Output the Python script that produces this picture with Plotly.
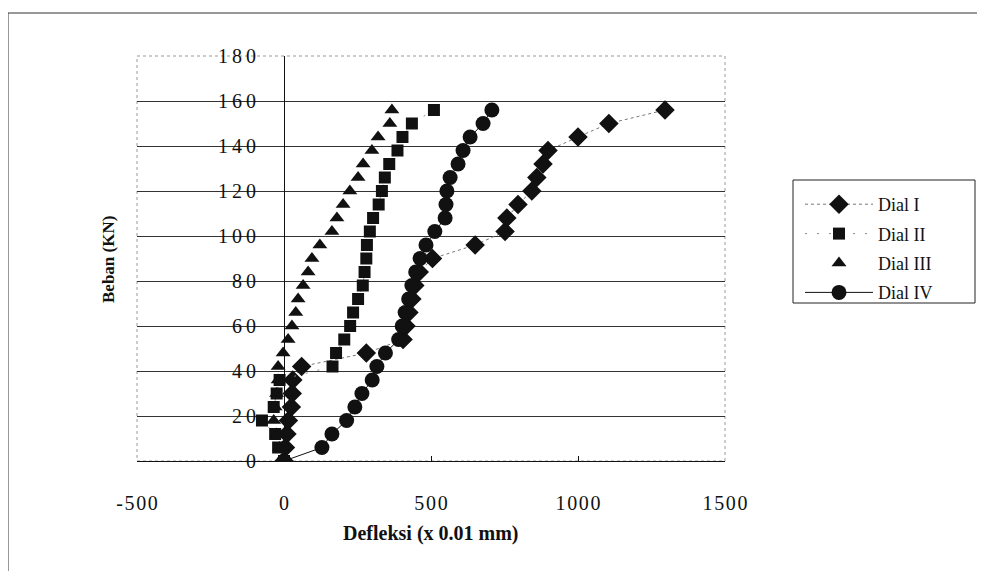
import plotly.graph_objects as go

# Load steps (kN)
beban = [0, 6, 12, 18, 24, 30, 36, 42, 48, 54, 60, 66, 72, 78, 84, 90,
         96, 102, 108, 114, 120, 126, 132, 138, 144, 150, 156]

# Deflection readings (x 0.01 mm)
dial_1 = [0, 5, 10, 15, 25, 28, 30, 60, 280, 405, 415, 425, 435, 445, 460, 505,
          650, 752, 758, 796, 843, 860, 881, 898, 1000, 1105, 1296]
dial_2 = [0, -20, -30, -75, -35, -25, -15, 165, 177, 205, 225, 235, 252, 268, 274, 280,
          282, 292, 303, 322, 333, 343, 358, 386, 403, 435, 510]
dial_3 = [0, -15, -25, -35, -30, -25, -20, -20, -3, 14, 27, 40, 48, 65, 82, 95,
          122, 163, 180, 201, 224, 252, 269, 299, 320, 360, 367]
dial_4 = [0, 129, 163, 213, 241, 265, 300, 316, 345, 390, 402, 412, 424, 435, 448, 463,
          483, 513, 548, 551, 554, 565, 592, 609, 633, 677, 707]

x_ticks = [-500, 0, 500, 1000, 1500]
y_ticks = [0, 20, 40, 60, 80, 100, 120, 140, 160, 180]

SERIF = "Liberation Serif, Times New Roman, serif"
INK = "#111111"

def spaced(v, sp):
    return sp.join(str(v))

fig = go.Figure()
fig.add_trace(go.Scatter(x=dial_1, y=beban, name="Dial I", mode="lines+markers",
                         legendgroup="g1",
                         line=dict(color="#777777", width=1, dash="dot"),
                         marker=dict(symbol="diamond", size=15, color=INK)))
fig.add_trace(go.Scatter(x=dial_2, y=beban, name="Dial II", mode="lines+markers",
                         legendgroup="g2",
                         line=dict(color="#888888", width=1, dash="2px,10px"),
                         marker=dict(symbol="square", size=12, color=INK)))
fig.add_trace(go.Scatter(x=dial_3, y=beban, name="Dial III", mode="markers",
                         legendgroup="g3",
                         marker=dict(symbol="triangle-up", size=13, color=INK)))
fig.add_trace(go.Scatter(x=dial_4, y=beban, name="Dial IV", mode="lines+markers",
                         legendgroup="g4",
                         line=dict(color=INK, width=1),
                         marker=dict(symbol="circle", size=15, color=INK)))

VW, VH = 985, 579
OFF = 8  # page body margin
W, H = VW - 2 * OFF, VH - 2 * OFF
L, R, T, B = 137, 725, 56, 461  # plot area in reference (window) pixels
pw, ph = R - L, B - T

def px(x):
    return (x - L) / pw

def py(y):
    return (B - y) / ph

fig.update_layout(
    width=W, height=H,
    margin=dict(l=L - OFF, r=W - (R - OFF), t=T - OFF, b=H - (B - OFF)),
    paper_bgcolor="white", plot_bgcolor="white",
    font=dict(family=SERIF, color=INK),
    showlegend=True,
    legend=dict(x=px(800), y=py(186), xanchor="left", yanchor="top",
                borderwidth=0, bgcolor="rgba(0,0,0,0)",
                traceorder="grouped", tracegroupgap=3,
                font=dict(family=SERIF, size=18, color=INK),
                itemwidth=68),
    xaxis=dict(range=[-500, 1500], tickvals=x_ticks,
               ticktext=[spaced(v, "\u200a") for v in x_ticks],
               showgrid=False, zeroline=True, zerolinecolor=INK, zerolinewidth=1,
               showline=True, linecolor=INK, linewidth=1,
               ticks="inside", ticklen=5, tickcolor=INK,
               ticklabelstandoff=24,
               tickfont=dict(family=SERIF, size=20, color=INK)),
    yaxis=dict(range=[0, 180], tickvals=y_ticks,
               ticktext=[spaced(v, "\u2009") for v in y_ticks],
               anchor="free", position=0.25,
               showgrid=True, gridcolor="#333333", gridwidth=1,
               zeroline=True, zerolinecolor=INK, zerolinewidth=1,
               showline=False, ticks="", ticklabelstandoff=28,
               tickfont=dict(family=SERIF, size=20, color=INK)),
    shapes=[
        dict(type="rect", xref="paper", yref="paper", x0=0, x1=1, y0=0, y1=1,
             line=dict(color="#999999", width=1, dash="dot"), layer="below"),
        dict(type="rect", xref="paper", yref="paper", x0=px(8), x1=px(1000),
             y0=py(600), y1=py(13), line=dict(color="#333333", width=1)),
        dict(type="rect", xref="paper", yref="paper", x0=px(793), x1=px(975),
             y0=py(303), y1=py(180), line=dict(color="#222222", width=1)),
    ],
    annotations=[
        dict(text="<b>Beban (KN)</b>", xref="paper", yref="paper",
             x=px(108), y=py(260), textangle=-90, showarrow=False,
             xanchor="center", yanchor="middle",
             font=dict(family=SERIF, size=17, color=INK)),
        dict(text="<b>Defleksi (x 0.01 mm)</b>", xref="paper", yref="paper",
             x=0.5, y=py(533), showarrow=False, xanchor="center", yanchor="middle",
             font=dict(family=SERIF, size=20, color=INK)),
    ],
)

fig.write_html("out.html")
